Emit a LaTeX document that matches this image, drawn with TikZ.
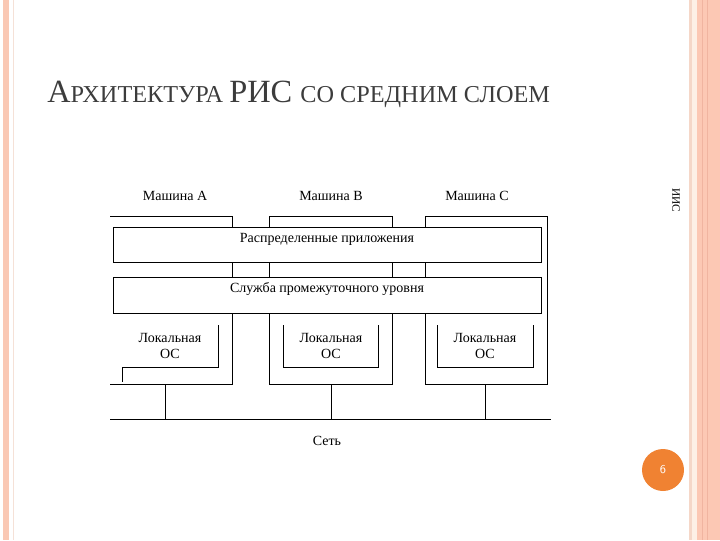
\documentclass[tikz,border=0pt]{standalone}
\usepackage{fontspec}
\setmainfont{Liberation Serif}
\begin{document}
\begin{tikzpicture}[x=0.75pt,y=-0.75pt,
  ln/.style={draw=black,line width=0.6pt},
  lbl/.style={font=\fontsize{10.5}{12.5}\selectfont,inner sep=0pt},
  bar/.style={ln,fill=white}]
\useasboundingbox (0,0) rectangle (720,540);
% borders
\fill[fill={rgb,255:red,250;green,200;blue,180}] (3,0) rectangle (9,540);
\draw[color={rgb,255:red,245;green,225;blue,215}] (13,0) -- (13,540);
\fill[fill={rgb,255:red,245;green,215;blue,200}] (689,0) rectangle (692,540);
\fill[fill={rgb,255:red,253;green,240;blue,230}] (692,0) rectangle (697,540);
\fill[fill={rgb,255:red,252;green,200;blue,180}] (697,0) rectangle (720,540);
\draw[color={rgb,255:red,240;green,180;blue,160}] (702,0) -- (702,540) (707,0) -- (707,540);
% title
\node[anchor=base west,inner sep=0pt,color={rgb,255:red,60;green,60;blue,60}] (title) at (47,102)
 {\fontsize{24.3}{29}\selectfont А\fontsize{18.2}{22}\selectfont РХИТЕКТУРА\ \fontsize{24.3}{29}\selectfont РИС \fontsize{18.2}{22}\selectfont СО СРЕДНИМ СЛОЕМ};
% machines
\draw[ln] (110,216) -- (232,216) -- (232,384) -- (110,384);
\draw[ln] (269,216) rectangle (392,384);
\draw[ln] (425,216) rectangle (547,384);
\node[lbl] (ma) at (175,196) {Машина A};
\node[lbl] (mb) at (331,196) {Машина B};
\node[lbl] (mc) at (477,196) {Машина C};
% bars
\draw[bar] (113,227) rectangle (541,262);
\node[lbl] (apps) at (327,239) {Распределенные приложения};
\draw[bar] (113,277) rectangle (541,313);
\node[lbl] (mw) at (327,289) {Служба промежуточного уровня};
% local OS
\draw[ln] (218,325) -- (218,367) -- (122,367) -- (122,382);
\draw[ln] (283,325) -- (283,367) -- (378,367) -- (378,325);
\draw[ln] (437,325) -- (437,367) -- (533,367) -- (533,325);
\node[lbl,align=center] (osa) at (170,346) {Локальная\\ОС};
\node[lbl,align=center] (osb) at (331,346) {Локальная\\ОС};
\node[lbl,align=center] (osc) at (485,346) {Локальная\\ОС};
% network
\coordinate (nl) at (110,419); \coordinate (nr) at (551,419);
\draw[ln] (nl) -- (nr);
\draw[ln] (165,384) -- (165,419) (331,384) -- (331,419) (485,384) -- (485,419);
\node[lbl] (net) at (327,441) {Сеть};
% side
\node[lbl,rotate=-90,font=\fontsize{8.5}{10}\selectfont] (iis) at (676,200) {ИИС};
\node[circle,fill={rgb,255:red,240;green,130;blue,50},minimum size=31.5pt,inner sep=0pt,text=white,font=\sffamily\small] (pg) at (663,470) {6};
\end{tikzpicture}
\end{document}
